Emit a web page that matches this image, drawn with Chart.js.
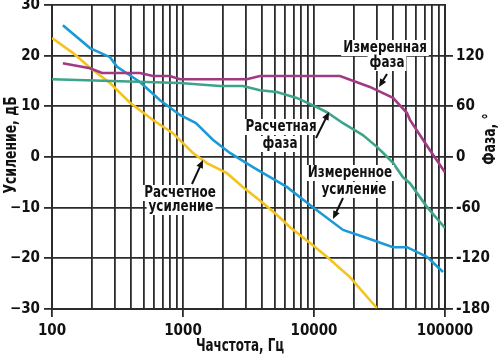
<!DOCTYPE html>
<html><head><meta charset="utf-8">
<script src="https://cdn.jsdelivr.net/npm/chart.js@4.4.0/dist/chart.umd.min.js"></script>
<style>html,body{margin:0;padding:0;background:#fff}#wrap{width:500px;height:357px}</style>
</head><body><div id="wrap"><canvas id="c" width="500" height="357"></canvas></div>
<script>
// ---- data ----
const measGainFreq = [121,195,277,314,469,668,948,1255,1690,2281,3418,6197,9803,16660,25320,40100,51300,72800,96600];
const measGainDb   = [26.0,21.5,19.7,17.8,14.8,11.2,8.3,6.7,3.4,0.8,-2.0,-5.9,-9.9,-14.4,-16.0,-17.8,-17.8,-19.7,-22.7];

const calcGainFreq = [100,145,195,277,394,590,837,1190,1522,2165,2863,4078,5200,6534,9803,12530,18800,30200];
const calcGainDb   = [23.5,20.5,17.6,14.6,10.7,7.3,4.7,0.8,-1.2,-3.2,-5.9,-9.1,-11.4,-13.8,-17.4,-19.7,-23.7,-29.8];

const measPhaseFreq = [121,195,241,469,590,794,948,3071,3867,15800,26700,40100,51300,54000,76800,100000];
const measPhaseDeg  = [111,105,99.5,99.5,96,96,92,92,96,96,83,70,52,44,8,-18];

const calcPhaseFreq = [100,948,1912,2863,3867,5200,7392,10500,12530,16660,23600,30200,33600,40100,47800,54000,72800,100000];
const calcPhaseDeg  = [92,87.6,84,84,79,77,70,59,53,40,26,12,5,-7,-24,-31,-59,-84];

const decadeLabels = [100,1000,10000,100000];
const gainTicks = [-30,-20,-10,0,10,20,30];
const phaseTicks = [-180,-120,-60,0,60,120];

const FONT = "'Liberation Sans Narrow','DejaVu Sans Condensed','Arial Narrow',Arial,sans-serif";
const GRID = '#2b2b2b';
const pts = (xs, ys) => xs.map((x, i) => ({x: x, y: ys[i]}));
const xTicks = [];
for (let d = 100; d <= 100000; d *= 10) for (let k = 1; k <= 9; k++) { const v = k * d; if (v <= 100000) xTicks.push(v); }

const annot = {
  id: 'annot',
  afterDraw(chart) {
    const c = chart.ctx;
    const SX = 0.83;
    c.save();
    const block = (lines) => {
      c.font = "bold 16px " + FONT;
      c.textAlign = 'center'; c.textBaseline = 'middle';
      lines.forEach(([t, x, y]) => {
        const w = c.measureText(t).width * SX;
        c.fillStyle = '#fff';
        c.fillRect(x - w/2 - 2, y - 8, w + 4, 16);
      });
      c.fillStyle = '#111';
      lines.forEach(([t, x, y]) => {
        c.save(); c.translate(x, y); c.scale(SX, 1); c.fillText(t, 0, 0); c.restore();
      });
    };
    const arrow = (x1, y1, x2, y2) => {
      c.strokeStyle = '#111'; c.fillStyle = '#111'; c.lineWidth = 2;
      const a = Math.atan2(y2 - y1, x2 - x1);
      const L = 8, W = 3.5;
      c.beginPath(); c.moveTo(x1, y1); c.lineTo(x2 - Math.cos(a)*L*0.8, y2 - Math.sin(a)*L*0.8); c.stroke();
      c.beginPath();
      c.moveTo(x2, y2);
      c.lineTo(x2 - Math.cos(a)*L - Math.sin(a)*W, y2 - Math.sin(a)*L + Math.cos(a)*W);
      c.lineTo(x2 - Math.cos(a)*L + Math.sin(a)*W, y2 - Math.sin(a)*L - Math.cos(a)*W);
      c.closePath(); c.fill();
    };
    block([['Измеренная', 385, 48], ['фаза', 387, 63]]);
    arrow(387, 74, 379, 87);
    block([['Расчетная', 281, 127], ['фаза', 280, 144]]);
    arrow(316, 138, 329, 112);
    block([['Расчетное', 180, 193], ['усиление', 181, 207]]);
    arrow(192, 184, 203, 160);
    block([['Измеренное', 350, 173], ['усиление', 354, 190]]);
    arrow(343, 198, 333, 219);

    // axis titles
    c.fillStyle = '#111';
    c.font = "bold 17px " + FONT;
    c.textAlign = 'center'; c.textBaseline = 'middle';
    c.save(); c.translate(240, 347); c.scale(0.78, 1); c.fillText('Чачстота, Гц', 0, 0); c.restore();
    c.save(); c.translate(12, 145); c.rotate(-Math.PI/2); c.scale(0.81, 1); c.fillText('Усиление, дБ', 0, 0); c.restore();
    c.save(); c.translate(491, 139); c.rotate(-Math.PI/2); c.scale(0.81, 1); c.fillText('Фаза, °', 0, 0); c.restore();
    c.restore();
  }
};

const lineDs = (label, data, color, axis) => ({
  label, data, yAxisID: axis, borderColor: color, backgroundColor: color,
  borderWidth: 2.6, showLine: true, pointRadius: 0, fill: false, tension: 0
});

const tickFont = { family: FONT, size: 15, weight: 'bold' };

new Chart(document.getElementById('c'), {
  type: 'scatter',
  data: { datasets: [
    lineDs('Измеренная фаза', pts(measPhaseFreq, measPhaseDeg), '#a03a85', 'y2'),
    lineDs('Расчетная фаза', pts(calcPhaseFreq, calcPhaseDeg), '#3ca48a', 'y2'),
    lineDs('Расчетное усиление', pts(calcGainFreq, calcGainDb), '#f4c31c', 'y'),
    lineDs('Измеренное усиление', pts(measGainFreq, measGainDb), '#1b9ad7', 'y')
  ]},
  options: {
    responsive: false, animation: false,
    layout: { padding: { top: 5, left: 0, right: 0, bottom: 0 } },
    plugins: { legend: { display: false }, tooltip: { enabled: false } },
    scales: {
      x: {
        type: 'logarithmic', min: 100, max: 100000, position: 'bottom',
        afterBuildTicks: s => { s.ticks = xTicks.map(v => ({ value: v })); },
        afterFit: s => { s.height = 48; s.paddingLeft = 0; s.paddingRight = 0; },
        ticks: {
          autoSkip: false, maxRotation: 0, minRotation: 0, padding: 5, color: '#111',
          font: tickFont,
          callback: v => decadeLabels.includes(v) ? String(v) : ''
        },
        grid: {
          color: GRID, lineWidth: 1.8, tickLength: 8,
          tickColor: ctx => (ctx.tick && decadeLabels.includes(ctx.tick.value)) ? GRID : 'rgba(0,0,0,0)'
        },
        border: { color: GRID, width: 2 }
      },
      y: {
        position: 'left', min: -30, max: 30,
        afterBuildTicks: s => { s.ticks = gainTicks.map(v => ({ value: v })); },
        afterFit: s => { s.width = 52; s.paddingTop = 0; s.paddingBottom = 0; },
        ticks: {
          padding: 4, color: '#111', font: tickFont,
          callback: v => v < 0 ? '\u2212' + Math.abs(v) : String(v)
        },
        grid: { color: GRID, lineWidth: 1.8, tickLength: 8 },
        border: { color: GRID, width: 2 }
      },
      y2: {
        position: 'right', min: -180, max: 180,
        afterBuildTicks: s => { s.ticks = phaseTicks.map(v => ({ value: v })); },
        afterFit: s => { s.width = 55; s.paddingTop = 0; s.paddingBottom = 0; },
        ticks: {
          padding: 3, color: '#111', font: tickFont,
          callback: v => String(v)
        },
        grid: { drawOnChartArea: false, color: GRID, lineWidth: 1.8, tickLength: 8 },
        border: { color: GRID, width: 2 }
      }
    }
  },
  plugins: [annot]
});
</script></body></html>
